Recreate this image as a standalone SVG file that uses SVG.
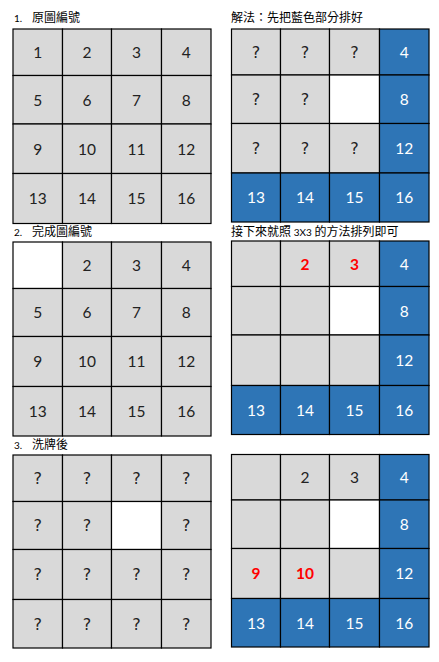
<svg xmlns="http://www.w3.org/2000/svg" width="439" height="662" viewBox="0 0 439 662">
<style>
.c rect{stroke:#000;stroke-width:1.2}
.g{fill:#d9d9d9}
.w{fill:#ffffff}
.b{fill:#2e75b6}
text{font-family:Lato,"Open Sans","Noto Sans CJK TC",sans-serif;font-size:15.5px;text-anchor:middle;fill:#222}
text.wt{fill:#ffffff}
text.r{fill:#ff0000;font-weight:bold}
text.q{font-family:"DejaVu Sans",sans-serif;font-size:16px}
text.t{font-size:12px;text-anchor:start;fill:#000;font-family:"Noto Sans CJK TC","Noto Sans CJK SC",sans-serif}
text.n{font-size:10px;text-anchor:start;fill:#000;font-family:Lato,sans-serif}
</style>
<rect width="439" height="662" fill="#fff"/>
<g id="titles">
<text class="n" x="14" y="22">1.</text><text class="t" x="32" y="22">原圖編號</text>
<text class="t" x="231" y="22">解法：先把藍色部分排好</text>
<text class="n" x="14" y="236">2.</text><text class="t" x="32" y="236">完成圖編號</text>
<text class="t" x="231" y="236">接下來就照 <tspan font-size="10" font-family="Lato,sans-serif">3X3</tspan> 的方法排列即可</text>
<text class="n" x="14" y="449">3.</text><text class="t" x="32" y="449">洗牌後</text>
</g>
<g id="grid1-left" class="c">
<rect class="g" x="13" y="29" width="49.5" height="46.5"/><rect class="g" x="62.5" y="29" width="49" height="46.5"/><rect class="g" x="111.5" y="29" width="50" height="46.5"/><rect class="g" x="161.5" y="29" width="49.5" height="46.5"/>
<rect class="g" x="13" y="75.5" width="49.5" height="48.5"/><rect class="g" x="62.5" y="75.5" width="49" height="48.5"/><rect class="g" x="111.5" y="75.5" width="50" height="48.5"/><rect class="g" x="161.5" y="75.5" width="49.5" height="48.5"/>
<rect class="g" x="13" y="124" width="49.5" height="49.5"/><rect class="g" x="62.5" y="124" width="49" height="49.5"/><rect class="g" x="111.5" y="124" width="50" height="49.5"/><rect class="g" x="161.5" y="124" width="49.5" height="49.5"/>
<rect class="g" x="13" y="173.5" width="49.5" height="50"/><rect class="g" x="62.5" y="173.5" width="49" height="50"/><rect class="g" x="111.5" y="173.5" width="50" height="50"/><rect class="g" x="161.5" y="173.5" width="49.5" height="50"/>
<text x="37.75" y="58">1</text><text x="87" y="58">2</text><text x="136.5" y="58">3</text><text x="186.25" y="58">4</text>
<text x="37.75" y="105.5">5</text><text x="87" y="105.5">6</text><text x="136.5" y="105.5">7</text><text x="186.25" y="105.5">8</text>
<text x="37.75" y="154.5">9</text><text x="87" y="154.5">10</text><text x="136.5" y="154.5">11</text><text x="186.25" y="154.5">12</text>
<text x="37.75" y="204">13</text><text x="87" y="204">14</text><text x="136.5" y="204">15</text><text x="186.25" y="204">16</text>
</g>
<g id="grid1-right" class="c">
<rect class="g" x="231.5" y="29" width="49" height="46"/><rect class="g" x="280.5" y="29" width="49" height="46"/><rect class="g" x="329.5" y="29" width="50" height="46"/><rect class="b" x="379.5" y="29" width="49.5" height="46"/>
<rect class="g" x="231.5" y="75" width="49" height="48.5"/><rect class="g" x="280.5" y="75" width="49" height="48.5"/><rect class="w" x="329.5" y="75" width="50" height="48.5"/><rect class="b" x="379.5" y="75" width="49.5" height="48.5"/>
<rect class="g" x="231.5" y="123.5" width="49" height="49.5"/><rect class="g" x="280.5" y="123.5" width="49" height="49.5"/><rect class="g" x="329.5" y="123.5" width="50" height="49.5"/><rect class="b" x="379.5" y="123.5" width="49.5" height="49.5"/>
<rect class="b" x="231.5" y="173" width="49" height="49"/><rect class="b" x="280.5" y="173" width="49" height="49"/><rect class="b" x="329.5" y="173" width="50" height="49"/><rect class="b" x="379.5" y="173" width="49.5" height="49"/>
<text class="q" x="256" y="58">?</text><text class="q" x="305" y="58">?</text><text class="q" x="354.5" y="58">?</text><text class="wt" x="404.25" y="58">4</text>
<text class="q" x="256" y="105">?</text><text class="q" x="305" y="105">?</text><text class="wt" x="404.25" y="105">8</text>
<text class="q" x="256" y="154">?</text><text class="q" x="305" y="154">?</text><text class="q" x="354.5" y="154">?</text><text class="wt" x="404.25" y="154">12</text>
<text class="wt" x="256" y="203">13</text><text class="wt" x="305" y="203">14</text><text class="wt" x="354.5" y="203">15</text><text class="wt" x="404.25" y="203">16</text>
</g>
<g id="grid2-left" class="c">
<rect class="w" x="13" y="242" width="49.5" height="46.5"/><rect class="g" x="62.5" y="242" width="49" height="46.5"/><rect class="g" x="111.5" y="242" width="50" height="46.5"/><rect class="g" x="161.5" y="242" width="49.5" height="46.5"/>
<rect class="g" x="13" y="288.5" width="49.5" height="48"/><rect class="g" x="62.5" y="288.5" width="49" height="48"/><rect class="g" x="111.5" y="288.5" width="50" height="48"/><rect class="g" x="161.5" y="288.5" width="49.5" height="48"/>
<rect class="g" x="13" y="336.5" width="49.5" height="50"/><rect class="g" x="62.5" y="336.5" width="49" height="50"/><rect class="g" x="111.5" y="336.5" width="50" height="50"/><rect class="g" x="161.5" y="336.5" width="49.5" height="50"/>
<rect class="g" x="13" y="386.5" width="49.5" height="49.5"/><rect class="g" x="62.5" y="386.5" width="49" height="49.5"/><rect class="g" x="111.5" y="386.5" width="50" height="49.5"/><rect class="g" x="161.5" y="386.5" width="49.5" height="49.5"/>
<text x="87" y="271">2</text><text x="136.5" y="271">3</text><text x="186.25" y="271">4</text>
<text x="37.75" y="318">5</text><text x="87" y="318">6</text><text x="136.5" y="318">7</text><text x="186.25" y="318">8</text>
<text x="37.75" y="367">9</text><text x="87" y="367">10</text><text x="136.5" y="367">11</text><text x="186.25" y="367">12</text>
<text x="37.75" y="417">13</text><text x="87" y="417">14</text><text x="136.5" y="417">15</text><text x="186.25" y="417">16</text>
</g>
<g id="grid2-right" class="c">
<rect class="g" x="231.5" y="241" width="49" height="45.5"/><rect class="g" x="280.5" y="241" width="49" height="45.5"/><rect class="g" x="329.5" y="241" width="50" height="45.5"/><rect class="b" x="379.5" y="241" width="49.5" height="45.5"/>
<rect class="g" x="231.5" y="286.5" width="49" height="48.5"/><rect class="g" x="280.5" y="286.5" width="49" height="48.5"/><rect class="w" x="329.5" y="286.5" width="50" height="48.5"/><rect class="b" x="379.5" y="286.5" width="49.5" height="48.5"/>
<rect class="g" x="231.5" y="335" width="49" height="50.5"/><rect class="g" x="280.5" y="335" width="49" height="50.5"/><rect class="g" x="329.5" y="335" width="50" height="50.5"/><rect class="b" x="379.5" y="335" width="49.5" height="50.5"/>
<rect class="b" x="231.5" y="385.5" width="49" height="49"/><rect class="b" x="280.5" y="385.5" width="49" height="49"/><rect class="b" x="329.5" y="385.5" width="50" height="49"/><rect class="b" x="379.5" y="385.5" width="49.5" height="49"/>
<text class="r" x="305" y="269.5">2</text><text class="r" x="354.5" y="269.5">3</text><text class="wt" x="404.25" y="269.5">4</text>
<text class="wt" x="404.25" y="316.5">8</text>
<text class="wt" x="404.25" y="366">12</text>
<text class="wt" x="256" y="416">13</text><text class="wt" x="305" y="416">14</text><text class="wt" x="354.5" y="416">15</text><text class="wt" x="404.25" y="416">16</text>
</g>
<g id="grid3-left" class="c">
<rect class="g" x="13" y="455" width="49.5" height="46.5"/><rect class="g" x="62.5" y="455" width="49" height="46.5"/><rect class="g" x="111.5" y="455" width="50" height="46.5"/><rect class="g" x="161.5" y="455" width="49.5" height="46.5"/>
<rect class="g" x="13" y="501.5" width="49.5" height="48"/><rect class="g" x="62.5" y="501.5" width="49" height="48"/><rect class="w" x="111.5" y="501.5" width="50" height="48"/><rect class="g" x="161.5" y="501.5" width="49.5" height="48"/>
<rect class="g" x="13" y="549.5" width="49.5" height="50"/><rect class="g" x="62.5" y="549.5" width="49" height="50"/><rect class="g" x="111.5" y="549.5" width="50" height="50"/><rect class="g" x="161.5" y="549.5" width="49.5" height="50"/>
<rect class="g" x="13" y="599.5" width="49.5" height="48.5"/><rect class="g" x="62.5" y="599.5" width="49" height="48.5"/><rect class="g" x="111.5" y="599.5" width="50" height="48.5"/><rect class="g" x="161.5" y="599.5" width="49.5" height="48.5"/>
<text class="q" x="37.75" y="484">?</text><text class="q" x="87" y="484">?</text><text class="q" x="136.5" y="484">?</text><text class="q" x="186.25" y="484">?</text>
<text class="q" x="37.75" y="531">?</text><text class="q" x="87" y="531">?</text><text class="q" x="186.25" y="531">?</text>
<text class="q" x="37.75" y="580">?</text><text class="q" x="87" y="580">?</text><text class="q" x="136.5" y="580">?</text><text class="q" x="186.25" y="580">?</text>
<text class="q" x="37.75" y="629.5">?</text><text class="q" x="87" y="629.5">?</text><text class="q" x="136.5" y="629.5">?</text><text class="q" x="186.25" y="629.5">?</text>
</g>
<g id="grid3-right" class="c">
<rect class="g" x="231.5" y="454.5" width="49" height="45.5"/><rect class="g" x="280.5" y="454.5" width="49" height="45.5"/><rect class="g" x="329.5" y="454.5" width="50" height="45.5"/><rect class="b" x="379.5" y="454.5" width="49.5" height="45.5"/>
<rect class="g" x="231.5" y="500" width="49" height="48.5"/><rect class="g" x="280.5" y="500" width="49" height="48.5"/><rect class="w" x="329.5" y="500" width="50" height="48.5"/><rect class="b" x="379.5" y="500" width="49.5" height="48.5"/>
<rect class="g" x="231.5" y="548.5" width="49" height="50"/><rect class="g" x="280.5" y="548.5" width="49" height="50"/><rect class="g" x="329.5" y="548.5" width="50" height="50"/><rect class="b" x="379.5" y="548.5" width="49.5" height="50"/>
<rect class="b" x="231.5" y="598.5" width="49" height="48.5"/><rect class="b" x="280.5" y="598.5" width="49" height="48.5"/><rect class="b" x="329.5" y="598.5" width="50" height="48.5"/><rect class="b" x="379.5" y="598.5" width="49.5" height="48.5"/>
<text x="305" y="483">2</text><text x="354.5" y="483">3</text><text class="wt" x="404.25" y="483">4</text>
<text class="wt" x="404.25" y="530">8</text>
<text class="r" x="256" y="579">9</text><text class="r" x="305" y="579">10</text><text class="wt" x="404.25" y="579">12</text>
<text class="wt" x="256" y="628.5">13</text><text class="wt" x="305" y="628.5">14</text><text class="wt" x="354.5" y="628.5">15</text><text class="wt" x="404.25" y="628.5">16</text>
</g>
</svg>
